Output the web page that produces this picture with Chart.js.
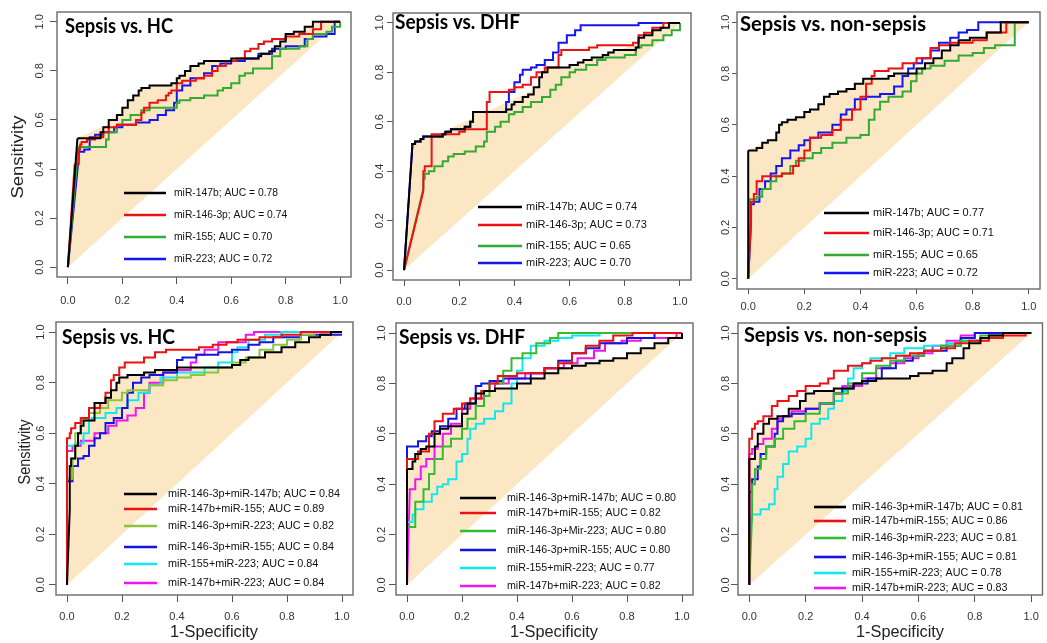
<!DOCTYPE html>
<html><head><meta charset="utf-8">
<script src="https://cdn.jsdelivr.net/npm/chart.js@4.4.1/dist/chart.umd.min.js"></script>
<style>
html,body{margin:0;padding:0;background:#fff;width:1047px;height:643px;overflow:hidden;position:relative}
canvas{position:absolute}
</style></head><body>
<script>
// ---------- tick values ----------
const xTicks = [0, 0.2, 0.4, 0.6, 0.8, 1.0];
const yTicks = [0, 0.2, 0.4, 0.6, 0.8, 1.0];

// ---------- panel titles ----------
const panelTitles = ['Sepsis vs. HC', 'Sepsis vs. DHF', 'Sepsis vs. non-sepsis',
                     'Sepsis vs. HC', 'Sepsis vs. DHF', 'Sepsis vs. non-sepsis'];

// ---------- legend labels ----------
const labelsHC1  = ['miR-147b; AUC = 0.78', 'miR-146-3p; AUC = 0.74', 'miR-155; AUC = 0.70', 'miR-223; AUC = 0.72'];
const labelsDHF1 = ['miR-147b; AUC = 0.74', 'miR-146-3p; AUC = 0.73', 'miR-155; AUC = 0.65', 'miR-223; AUC = 0.70'];
const labelsNS1  = ['miR-147b; AUC = 0.77', 'miR-146-3p; AUC = 0.71', 'miR-155; AUC = 0.65', 'miR-223; AUC = 0.72'];
const labelsHC2  = ['miR-146-3p+miR-147b; AUC = 0.84', 'miR-147b+miR-155; AUC = 0.89', 'miR-146-3p+miR-223; AUC = 0.82',
                    'miR-146-3p+miR-155; AUC = 0.84', 'miR-155+miR-223; AUC = 0.84', 'miR-147b+miR-223; AUC = 0.84'];
const labelsDHF2 = ['miR-146-3p+miR-147b; AUC = 0.80', 'miR-147b+miR-155; AUC = 0.82', 'miR-146-3p+Mir-223; AUC = 0.80',
                    'miR-146-3p+miR-155; AUC = 0.80', 'miR-155+miR-223; AUC = 0.77', 'miR-147b+miR-223; AUC = 0.82'];
const labelsNS2  = ['miR-146-3p+miR-147b; AUC = 0.81', 'miR-147b+miR-155; AUC = 0.86', 'miR-146-3p+miR-223; AUC = 0.81',
                    'miR-146-3p+miR-155; AUC = 0.81', 'miR-155+miR-223; AUC = 0.78', 'miR-147b+miR-223; AUC = 0.83'];

// ---------- ROC curves [1-specificity, sensitivity] ----------
// Sepsis vs. HC (single)
const hc_147b = [[0,0],[0.035,0.525],[0.12,0.525],[0.13,0.55],[0.15,0.57],[0.18,0.6],[0.2,0.62],[0.22,0.65],[0.24,0.68],[0.26,0.7],[0.27,0.72],[0.3,0.73],[0.38,0.74],[0.4,0.75],[0.41,0.77],[0.43,0.78],[0.45,0.8],[0.48,0.82],[0.5,0.83],[0.53,0.84],[0.6,0.84],[0.63,0.85],[0.7,0.85],[0.71,0.86],[0.74,0.87],[0.76,0.88],[0.78,0.9],[0.8,0.92],[0.83,0.95],[0.87,0.96],[0.9,0.98],[1,1]];
const hc_146 = [[0,0],[0.025,0.42],[0.04,0.42],[0.045,0.48],[0.05,0.5],[0.07,0.51],[0.1,0.52],[0.13,0.53],[0.15,0.55],[0.18,0.57],[0.25,0.58],[0.27,0.6],[0.28,0.63],[0.3,0.65],[0.33,0.67],[0.36,0.68],[0.37,0.7],[0.38,0.71],[0.4,0.72],[0.42,0.75],[0.47,0.76],[0.5,0.77],[0.53,0.78],[0.55,0.8],[0.58,0.82],[0.62,0.84],[0.65,0.85],[0.67,0.88],[0.7,0.89],[0.72,0.91],[0.75,0.92],[0.8,0.93],[0.85,0.94],[0.9,0.95],[0.93,0.97],[1,1]];
const hc_155 = [[0,0],[0.035,0.45],[0.04,0.48],[0.07,0.49],[0.14,0.49],[0.15,0.52],[0.18,0.55],[0.2,0.58],[0.23,0.6],[0.27,0.62],[0.3,0.64],[0.35,0.65],[0.4,0.65],[0.41,0.67],[0.45,0.68],[0.5,0.69],[0.55,0.7],[0.57,0.72],[0.6,0.73],[0.63,0.75],[0.65,0.78],[0.68,0.79],[0.75,0.81],[0.78,0.86],[0.85,0.89],[0.88,0.9],[0.9,0.93],[0.95,0.95],[0.97,0.96],[1,0.98],[1,1]];
const hc_223 = [[0,0],[0.04,0.45],[0.06,0.47],[0.08,0.48],[0.1,0.53],[0.13,0.54],[0.17,0.55],[0.2,0.57],[0.25,0.58],[0.3,0.59],[0.33,0.6],[0.36,0.62],[0.39,0.64],[0.4,0.67],[0.42,0.72],[0.45,0.74],[0.5,0.77],[0.53,0.79],[0.56,0.82],[0.6,0.83],[0.65,0.84],[0.7,0.85],[0.75,0.87],[0.8,0.89],[0.87,0.9],[0.9,0.93],[0.95,0.94],[0.98,0.95],[1,1]];
// Sepsis vs. DHF (single)
const dhf_147b = [[0,0],[0.03,0.5],[0.04,0.51],[0.06,0.52],[0.07,0.53],[0.09,0.54],[0.14,0.54],[0.15,0.55],[0.17,0.56],[0.22,0.57],[0.24,0.58],[0.25,0.6],[0.27,0.64],[0.37,0.64],[0.39,0.65],[0.4,0.67],[0.43,0.68],[0.45,0.7],[0.47,0.71],[0.49,0.74],[0.5,0.78],[0.52,0.8],[0.55,0.82],[0.6,0.82],[0.63,0.83],[0.65,0.84],[0.68,0.85],[0.72,0.86],[0.74,0.87],[0.76,0.88],[0.78,0.89],[0.84,0.89],[0.85,0.9],[0.87,0.94],[0.9,0.95],[0.93,0.97],[0.96,0.98],[1,1]];
const dhf_146 = [[0,0],[0.07,0.32],[0.075,0.4],[0.08,0.42],[0.1,0.42],[0.1,0.54],[0.12,0.55],[0.2,0.55],[0.22,0.56],[0.25,0.57],[0.3,0.57],[0.3,0.59],[0.31,0.68],[0.34,0.72],[0.38,0.72],[0.4,0.73],[0.43,0.74],[0.46,0.75],[0.48,0.78],[0.51,0.8],[0.53,0.82],[0.56,0.82],[0.57,0.87],[0.6,0.89],[0.67,0.89],[0.7,0.9],[0.75,0.91],[0.83,0.91],[0.85,0.92],[0.87,0.95],[0.9,0.96],[0.94,0.98],[1,1]];
const dhf_155 = [[0,0],[0.07,0.33],[0.075,0.37],[0.09,0.39],[0.11,0.4],[0.14,0.42],[0.16,0.44],[0.18,0.46],[0.22,0.47],[0.26,0.48],[0.29,0.5],[0.3,0.52],[0.33,0.56],[0.35,0.58],[0.38,0.6],[0.4,0.63],[0.43,0.64],[0.46,0.66],[0.5,0.68],[0.53,0.7],[0.55,0.73],[0.57,0.75],[0.6,0.78],[0.62,0.8],[0.66,0.81],[0.7,0.83],[0.73,0.85],[0.8,0.86],[0.84,0.87],[0.86,0.9],[0.9,0.91],[0.94,0.93],[0.97,0.95],[1,0.97],[1,1]];
const dhf_223 = [[0,0],[0.03,0.5],[0.04,0.51],[0.06,0.52],[0.07,0.53],[0.09,0.54],[0.14,0.54],[0.15,0.55],[0.17,0.56],[0.22,0.57],[0.24,0.58],[0.25,0.6],[0.27,0.64],[0.37,0.64],[0.37,0.66],[0.38,0.68],[0.4,0.72],[0.42,0.76],[0.43,0.79],[0.46,0.81],[0.48,0.82],[0.51,0.83],[0.54,0.85],[0.56,0.88],[0.59,0.92],[0.62,0.95],[0.64,0.97],[0.68,0.99],[0.85,0.99],[1,1]];
// Sepsis vs. non-sepsis (single)
const ns_147b = [[0,0],[0,0.5],[0.03,0.5],[0.05,0.51],[0.07,0.53],[0.1,0.54],[0.11,0.57],[0.12,0.6],[0.14,0.61],[0.17,0.62],[0.2,0.63],[0.22,0.65],[0.25,0.66],[0.27,0.68],[0.29,0.71],[0.32,0.72],[0.35,0.73],[0.38,0.74],[0.41,0.76],[0.43,0.78],[0.5,0.78],[0.52,0.79],[0.53,0.8],[0.6,0.8],[0.63,0.82],[0.66,0.84],[0.69,0.86],[0.72,0.89],[0.75,0.91],[0.79,0.93],[0.85,0.94],[0.9,0.96],[1,1]];
const ns_146 = [[0,0],[0.01,0.22],[0.02,0.3],[0.03,0.33],[0.05,0.38],[0.06,0.4],[0.12,0.4],[0.16,0.41],[0.18,0.44],[0.2,0.47],[0.22,0.5],[0.26,0.55],[0.3,0.56],[0.33,0.58],[0.37,0.62],[0.4,0.66],[0.42,0.71],[0.44,0.76],[0.45,0.79],[0.5,0.81],[0.55,0.82],[0.6,0.84],[0.65,0.86],[0.68,0.9],[0.72,0.91],[0.8,0.92],[0.85,0.93],[0.92,0.96],[1,1]];
const ns_155 = [[0,0],[0.005,0.3],[0.03,0.31],[0.05,0.32],[0.08,0.35],[0.1,0.38],[0.12,0.4],[0.15,0.41],[0.17,0.44],[0.2,0.46],[0.23,0.47],[0.26,0.49],[0.3,0.51],[0.35,0.53],[0.4,0.55],[0.43,0.56],[0.45,0.62],[0.47,0.66],[0.5,0.69],[0.55,0.71],[0.58,0.73],[0.6,0.77],[0.62,0.8],[0.65,0.82],[0.7,0.83],[0.75,0.85],[0.8,0.87],[0.84,0.88],[0.88,0.9],[0.95,0.91],[1,1]];
const ns_223 = [[0,0],[0.01,0.22],[0.02,0.29],[0.04,0.3],[0.06,0.35],[0.08,0.38],[0.1,0.41],[0.12,0.44],[0.15,0.47],[0.18,0.5],[0.2,0.52],[0.22,0.54],[0.25,0.55],[0.3,0.57],[0.33,0.6],[0.35,0.64],[0.38,0.66],[0.42,0.7],[0.47,0.71],[0.52,0.72],[0.55,0.75],[0.57,0.79],[0.59,0.82],[0.62,0.84],[0.65,0.86],[0.68,0.89],[0.72,0.92],[0.75,0.94],[0.78,0.96],[0.82,0.97],[1,1]];
// Sepsis vs. HC (combinations)
const hc2_a = [[0,0],[0.01,0.3],[0.015,0.47],[0.03,0.5],[0.04,0.55],[0.05,0.6],[0.06,0.63],[0.07,0.65],[0.1,0.65],[0.1,0.71],[0.14,0.72],[0.16,0.74],[0.18,0.77],[0.19,0.8],[0.22,0.82],[0.28,0.83],[0.32,0.84],[0.4,0.85],[0.5,0.86],[0.6,0.86],[0.63,0.87],[0.66,0.89],[0.72,0.9],[0.78,0.92],[0.83,0.94],[0.88,0.96],[0.92,0.98],[0.96,0.99],[1,1]];
const hc2_b = [[0,0],[0,0.55],[0.01,0.58],[0.015,0.6],[0.03,0.62],[0.05,0.64],[0.08,0.66],[0.12,0.7],[0.14,0.72],[0.16,0.76],[0.17,0.81],[0.19,0.83],[0.21,0.86],[0.28,0.88],[0.32,0.9],[0.36,0.92],[0.48,0.93],[0.53,0.94],[0.58,0.95],[0.62,0.96],[0.7,0.97],[0.78,0.98],[0.85,0.99],[1,1]];
const hc2_c = [[0,0],[0,0.41],[0.02,0.42],[0.03,0.5],[0.05,0.6],[0.08,0.65],[0.12,0.68],[0.15,0.7],[0.2,0.73],[0.22,0.76],[0.3,0.77],[0.35,0.79],[0.4,0.81],[0.45,0.82],[0.5,0.83],[0.55,0.84],[0.6,0.86],[0.65,0.88],[0.7,0.9],[0.75,0.93],[0.8,0.95],[0.85,0.97],[0.9,0.99],[0.95,1],[1,1]];
const hc2_d = [[0,0],[0,0.39],[0.02,0.41],[0.02,0.46],[0.04,0.47],[0.06,0.5],[0.08,0.51],[0.1,0.55],[0.12,0.58],[0.14,0.6],[0.17,0.64],[0.2,0.66],[0.22,0.7],[0.24,0.76],[0.27,0.8],[0.3,0.82],[0.35,0.83],[0.4,0.84],[0.42,0.89],[0.47,0.9],[0.55,0.91],[0.6,0.92],[0.66,0.93],[0.7,0.95],[0.75,0.96],[0.85,0.98],[0.9,0.99],[1,0.99]];
const hc2_e = [[0,0],[0,0.5],[0.03,0.55],[0.06,0.56],[0.08,0.6],[0.09,0.65],[0.14,0.66],[0.18,0.68],[0.22,0.7],[0.26,0.73],[0.3,0.76],[0.34,0.79],[0.4,0.82],[0.5,0.84],[0.55,0.86],[0.6,0.88],[0.62,0.92],[0.66,0.94],[0.72,0.97],[0.78,0.99],[0.83,1],[1,1]];
const hc2_f = [[0,0],[0,0.52],[0.02,0.53],[0.05,0.55],[0.1,0.57],[0.15,0.6],[0.18,0.63],[0.22,0.65],[0.25,0.67],[0.28,0.7],[0.3,0.76],[0.35,0.8],[0.4,0.84],[0.45,0.85],[0.47,0.88],[0.5,0.91],[0.55,0.93],[0.65,0.96],[0.68,0.99],[0.72,1],[1,1]];
// Sepsis vs. DHF (combinations)
const dhf2_a = [[0,0],[0,0.46],[0.02,0.46],[0.03,0.49],[0.05,0.52],[0.07,0.54],[0.1,0.55],[0.12,0.6],[0.15,0.62],[0.2,0.63],[0.22,0.68],[0.25,0.72],[0.28,0.76],[0.32,0.77],[0.4,0.78],[0.45,0.8],[0.5,0.82],[0.55,0.84],[0.6,0.86],[0.65,0.87],[0.7,0.88],[0.75,0.89],[0.8,0.9],[0.85,0.92],[0.9,0.94],[0.95,0.96],[1,0.98],[1,1]];
const dhf2_b = [[0,0],[0,0.43],[0.01,0.5],[0.04,0.5],[0.08,0.53],[0.1,0.6],[0.13,0.65],[0.17,0.68],[0.2,0.7],[0.23,0.72],[0.27,0.74],[0.3,0.77],[0.33,0.8],[0.4,0.83],[0.5,0.84],[0.55,0.86],[0.6,0.88],[0.65,0.92],[0.7,0.95],[0.75,0.97],[0.82,0.99],[0.9,1],[1,1]];
const dhf2_c = [[0,0],[0,0.23],[0.03,0.23],[0.03,0.3],[0.06,0.33],[0.08,0.38],[0.1,0.44],[0.13,0.5],[0.16,0.55],[0.2,0.58],[0.22,0.62],[0.25,0.66],[0.28,0.71],[0.3,0.75],[0.35,0.8],[0.38,0.85],[0.42,0.9],[0.47,0.92],[0.52,0.96],[0.55,0.98],[0.6,1],[1,1]];
const dhf2_d = [[0,0],[0,0.54],[0.04,0.55],[0.07,0.57],[0.09,0.59],[0.12,0.61],[0.15,0.63],[0.18,0.66],[0.21,0.7],[0.25,0.72],[0.27,0.79],[0.3,0.8],[0.35,0.81],[0.45,0.82],[0.5,0.84],[0.55,0.86],[0.6,0.89],[0.65,0.92],[0.7,0.94],[0.8,0.96],[0.9,0.98],[0.96,1],[1,1]];
const dhf2_e = [[0,0],[0,0.23],[0.02,0.25],[0.03,0.28],[0.06,0.3],[0.09,0.33],[0.11,0.36],[0.13,0.39],[0.15,0.4],[0.18,0.42],[0.2,0.49],[0.22,0.52],[0.23,0.58],[0.25,0.62],[0.28,0.64],[0.32,0.66],[0.35,0.69],[0.38,0.72],[0.4,0.8],[0.42,0.85],[0.45,0.9],[0.5,0.95],[0.55,0.97],[0.6,0.98],[0.7,0.99],[0.8,1],[1,1]];
const dhf2_f = [[0,0],[0.01,0.37],[0.03,0.38],[0.05,0.42],[0.07,0.47],[0.1,0.5],[0.13,0.55],[0.16,0.6],[0.2,0.64],[0.23,0.7],[0.28,0.74],[0.32,0.77],[0.37,0.8],[0.43,0.82],[0.5,0.84],[0.57,0.86],[0.62,0.88],[0.68,0.9],[0.72,0.93],[0.78,0.96],[0.85,0.97],[0.9,0.98],[0.98,0.98],[1,1]];
// Sepsis vs. non-sepsis (combinations)
const ns2_a = [[0,0],[0,0.48],[0.02,0.5],[0.03,0.55],[0.05,0.6],[0.07,0.64],[0.1,0.66],[0.14,0.67],[0.18,0.7],[0.2,0.73],[0.23,0.76],[0.3,0.77],[0.37,0.78],[0.4,0.8],[0.45,0.81],[0.5,0.82],[0.57,0.82],[0.6,0.83],[0.65,0.84],[0.7,0.85],[0.72,0.88],[0.76,0.9],[0.78,0.94],[0.82,0.96],[0.85,0.98],[0.9,0.99],[1,1]];
const ns2_b = [[0,0],[0,0.56],[0.01,0.58],[0.02,0.62],[0.03,0.64],[0.05,0.65],[0.08,0.67],[0.1,0.71],[0.14,0.73],[0.17,0.75],[0.2,0.77],[0.25,0.79],[0.28,0.8],[0.3,0.82],[0.35,0.85],[0.4,0.87],[0.43,0.88],[0.47,0.89],[0.52,0.9],[0.57,0.91],[0.62,0.92],[0.68,0.93],[0.73,0.94],[0.78,0.96],[0.85,0.97],[0.9,0.98],[0.98,0.99],[1,1]];
const ns2_c = [[0,0],[0.01,0.28],[0.02,0.4],[0.04,0.46],[0.06,0.5],[0.09,0.55],[0.12,0.58],[0.16,0.62],[0.2,0.65],[0.25,0.68],[0.3,0.72],[0.35,0.76],[0.4,0.8],[0.45,0.84],[0.5,0.87],[0.55,0.89],[0.62,0.91],[0.68,0.93],[0.75,0.95],[0.82,0.97],[0.9,0.99],[1,1]];
const ns2_d = [[0,0],[0,0.3],[0.01,0.37],[0.03,0.42],[0.04,0.47],[0.06,0.52],[0.09,0.55],[0.1,0.6],[0.12,0.65],[0.15,0.67],[0.2,0.68],[0.25,0.7],[0.3,0.72],[0.33,0.76],[0.37,0.78],[0.42,0.8],[0.47,0.82],[0.52,0.86],[0.58,0.89],[0.62,0.91],[0.7,0.93],[0.75,0.95],[0.8,0.98],[0.85,1],[1,1]];
const ns2_e = [[0,0],[0.005,0.22],[0.01,0.26],[0.04,0.28],[0.07,0.3],[0.09,0.32],[0.1,0.38],[0.12,0.43],[0.14,0.48],[0.17,0.53],[0.2,0.55],[0.22,0.58],[0.25,0.64],[0.28,0.66],[0.3,0.7],[0.33,0.73],[0.35,0.77],[0.37,0.82],[0.4,0.86],[0.43,0.88],[0.5,0.9],[0.55,0.92],[0.62,0.94],[0.7,0.95],[0.75,0.96],[0.82,0.97],[0.85,0.98],[1,1]];
const ns2_f = [[0,0],[0,0.45],[0.01,0.52],[0.03,0.54],[0.05,0.56],[0.08,0.58],[0.1,0.62],[0.12,0.66],[0.15,0.67],[0.2,0.69],[0.25,0.7],[0.3,0.72],[0.33,0.76],[0.4,0.79],[0.45,0.82],[0.5,0.86],[0.55,0.88],[0.6,0.9],[0.65,0.92],[0.7,0.95],[0.75,0.97],[0.8,0.99],[0.9,1],[1,1]];

// ---------- styling ----------
const colorsTop = ['#000000', '#ee1111', '#33aa33', '#1515ee'];
const colorsHC2 = ['#000000', '#ee1111', '#8cc43c', '#1515dd', '#11e8ee', '#ee15ee'];
const colorsB2  = ['#000000', '#ee1111', '#33bb33', '#1515dd', '#11e8ee', '#ee15ee'];
const FILL = 'rgb(252,231,196)';
const TICKFONT = '"Liberation Sans", Arial, sans-serif';

const panels = [
  {left:0,   top:0,   w:360, h:320, area:{l:57, r:351, t:12, b:277}, title:panelTitles[0], tx:65,  ty:33,  tw:108,
   curves:[hc_147b,hc_146,hc_155,hc_223], labels:labelsHC1, colors:colorsTop,
   leg:{x1:124, x2:166, tx:174, tw:104, ys:[193,215,237,259]}, yTickOff:17, tickLen:7, xPad:10,
   ylab:{x:18, y:157, w:83}, xlab:null},
  {left:360, top:0,   w:340, h:320, area:{l:393, r:691, t:13, b:280}, title:panelTitles[1], tx:395, ty:29,  tw:125,
   curves:[dhf_147b,dhf_146,dhf_155,dhf_223], labels:labelsDHF1, colors:colorsTop,
   leg:{x1:478, x2:522, tx:526, tw:111, ys:[207,225,246,263]}, yTickOff:13, tickLen:6, xPad:9,
   ylab:null, xlab:null},
  {left:700, top:0,   w:347, h:320, area:{l:737, r:1040, t:12, b:289}, title:panelTitles[2], tx:740, ty:31, tw:186,
   curves:[ns_147b,ns_146,ns_155,ns_223], labels:labelsNS1, colors:colorsTop,
   leg:{x1:824, x2:869, tx:873, tw:111, ys:[213,233,255,273]}, yTickOff:11, tickLen:5, xPad:6,
   ylab:null, xlab:null},
  {left:0,   top:320, w:360, h:323, area:{l:56, r:353, t:322, b:595}, title:panelTitles[3], tx:62,  ty:344, tw:113,
   curves:[hc2_a,hc2_b,hc2_c,hc2_d,hc2_e,hc2_f], labels:labelsHC2, colors:colorsHC2,
   leg:{x1:124, x2:157, tx:168, tw:172, ys:[494,509,526,547,564,583]}, yTickOff:15, tickLen:7, xPad:8,
   ylab:{x:25, y:452, w:65}, xlab:{x:214, y:633, w:88}},
  {left:360, top:320, w:340, h:323, area:{l:396, r:693, t:323, b:595}, title:panelTitles[4], tx:399, ty:344, tw:126,
   curves:[dhf2_a,dhf2_b,dhf2_c,dhf2_d,dhf2_e,dhf2_f], labels:labelsDHF2, colors:colorsB2,
   leg:{x1:460, x2:496, tx:507, tw:169, ys:[498,513,531,550,568,586]}, yTickOff:14, tickLen:7, xPad:8,
   ylab:null, xlab:{x:554, y:633, w:88}},
  {left:700, top:320, w:347, h:323, area:{l:738, r:1043, t:323, b:595}, title:panelTitles[5], tx:744, ty:342, tw:183,
   curves:[ns2_a,ns2_b,ns2_c,ns2_d,ns2_e,ns2_f], labels:labelsNS2, colors:colorsB2,
   leg:{x1:814, x2:846, tx:852, tw:171, ys:[507,521,538,557,573,588]}, yTickOff:12, tickLen:7, xPad:8,
   ylab:null, xlab:{x:900, y:633, w:88}}
];

function fitText(ctx, text, x, y, w, font, color, align) {
  ctx.save();
  ctx.font = font; ctx.fillStyle = color; ctx.textAlign = 'left';
  const m = ctx.measureText(text).width;
  const s = w / m;
  let x0 = x;
  if (align === 'center') x0 = x - w / 2;
  ctx.translate(x0, y); ctx.scale(s, 1);
  ctx.fillText(text, 0, 0);
  ctx.restore();
}

const decor = {
  id: 'decor',
  afterDraw(chart, args, o) {
    const P = o.panel; if (!P) return;
    const ctx = chart.ctx, a = chart.chartArea, ys = chart.scales.y;
    const ox = P.left, oy = P.top;
    ctx.save();
    // plot box
    ctx.strokeStyle = '#6a6a6a'; ctx.lineWidth = 1.4;
    ctx.strokeRect(a.left, a.top, a.right - a.left, a.bottom - a.top);
    // y tick labels (rotated, R style)
    ctx.fillStyle = '#333'; ctx.font = '11px ' + TICKFONT;
    ctx.textAlign = 'center'; ctx.textBaseline = 'middle';
    yTicks.forEach(v => {
      const py = ys.getPixelForValue(v);
      ctx.save(); ctx.translate(a.left - P.yTickOff, py); ctx.rotate(-Math.PI / 2);
      ctx.fillText(v.toFixed(1), 0, 0); ctx.restore();
    });
    // panel title
    ctx.textBaseline = 'alphabetic';
    fitText(ctx, P.title, P.tx - ox, P.ty - oy, P.tw, 'bold 20px Lato, "Open Sans", sans-serif', '#000', 'left');
    // legend
    const L = P.leg;
    ctx.font = '11.5px ' + TICKFONT;
    const s = L.tw / ctx.measureText(P.labels[0]).width;
    P.labels.forEach((lab, i) => {
      const yy = L.ys[i] - oy;
      ctx.strokeStyle = P.colors[i]; ctx.lineWidth = 2.6;
      ctx.beginPath(); ctx.moveTo(L.x1 - ox, yy); ctx.lineTo(L.x2 - ox, yy); ctx.stroke();
      ctx.save(); ctx.fillStyle = '#111'; ctx.textAlign = 'left'; ctx.textBaseline = 'middle';
      ctx.translate(L.tx - ox, yy); ctx.scale(s, 1); ctx.fillText(lab, 0, 0); ctx.restore();
    });
    // axis titles
    ctx.textBaseline = 'middle';
    if (P.ylab) {
      ctx.save(); ctx.translate(P.ylab.x - ox, P.ylab.y - oy); ctx.rotate(-Math.PI / 2);
      fitText(ctx, 'Sensitivity', 0, 0, P.ylab.w, '17px ' + TICKFONT, '#222', 'center');
      ctx.restore();
    }
    if (P.xlab) {
      fitText(ctx, '1-Specificity', P.xlab.x - ox, P.xlab.y - oy, P.xlab.w, '16px ' + TICKFONT, '#222', 'center');
    }
    ctx.restore();
  }
};

const toXY = arr => arr.map(p => ({x: p[0], y: p[1]}));

function build() {
  panels.forEach(P => {
    const cv = document.createElement('canvas');
    cv.width = P.w; cv.height = P.h;
    cv.style.left = P.left + 'px'; cv.style.top = P.top + 'px';
    cv.style.width = P.w + 'px'; cv.style.height = P.h + 'px';
    document.body.appendChild(cv);
    const yW = P.area.l - P.left, xH = P.top + P.h - P.area.b;
    const c0 = P.curves[0];
    const datasets = [];
    // shaded region between the first curve and the diagonal:
    // (a) triangle under the first straight segment, (b) stepped remainder closed to the diagonal
    datasets.push({
      label: 'area-a', data: toXY([c0[0], c0[1], c0[c0.length - 1]]), showLine: true,
      stepped: false, fill: 'shape', backgroundColor: FILL, borderWidth: 1,
      borderColor: FILL, pointRadius: 0, order: 101
    });
    datasets.push({
      label: 'area-b', data: toXY(c0.slice(1)), showLine: true,
      stepped: 'after', fill: 'shape', backgroundColor: FILL, borderWidth: 0,
      borderColor: 'rgba(0,0,0,0)', pointRadius: 0, order: 100
    });
    P.curves.forEach((c, i) => {
      // first (possibly sloped) segment drawn straight, rest as steps
      datasets.push({
        label: P.labels[i] + ' start', data: toXY(c.slice(0, 2)), showLine: true, stepped: false,
        fill: false, borderColor: P.colors[i], borderWidth: 2, pointRadius: 0, order: i + 1
      });
      datasets.push({
        label: P.labels[i], data: toXY(c.slice(1)), showLine: true, stepped: 'after',
        fill: false, borderColor: P.colors[i], borderWidth: 2, pointRadius: 0, order: i + 1
      });
    });
    new Chart(cv, {
      type: 'scatter',
      data: {datasets},
      options: {
        responsive: false, animation: false, devicePixelRatio: 1,
        layout: {autoPadding: false, padding: {left: 0, bottom: 0, top: P.area.t - P.top, right: P.left + P.w - P.area.r}},
        plugins: {legend: {display: false}, tooltip: {enabled: false}, decor: {panel: P}},
        scales: {
          x: {
            type: 'linear', min: -0.04, max: 1.04,
            afterBuildTicks: s => { s.ticks = xTicks.map(v => ({value: v})); },
            afterFit: s => { s.height = xH; },
            grid: {drawOnChartArea: false, drawTicks: true, tickLength: P.tickLen, color: '#555', lineWidth: 1},
            border: {display: false},
            ticks: {autoSkip: false, maxRotation: 0, padding: P.xPad, color: '#333',
                    font: {family: TICKFONT, size: 11}, callback: v => Number(v).toFixed(1)}
          },
          y: {
            type: 'linear', min: -0.04, max: 1.04,
            afterBuildTicks: s => { s.ticks = yTicks.map(v => ({value: v})); },
            afterFit: s => { s.width = yW; },
            grid: {drawOnChartArea: false, drawTicks: true, tickLength: P.tickLen, color: '#555', lineWidth: 1},
            border: {display: false},
            ticks: {display: false}
          }
        }
      },
      plugins: [decor]
    });
  });
}

Promise.all([
  document.fonts.load('bold 20px Lato'),
  document.fonts.load('11px "Liberation Sans"')
]).then(build, build);
</script>
</body></html>
